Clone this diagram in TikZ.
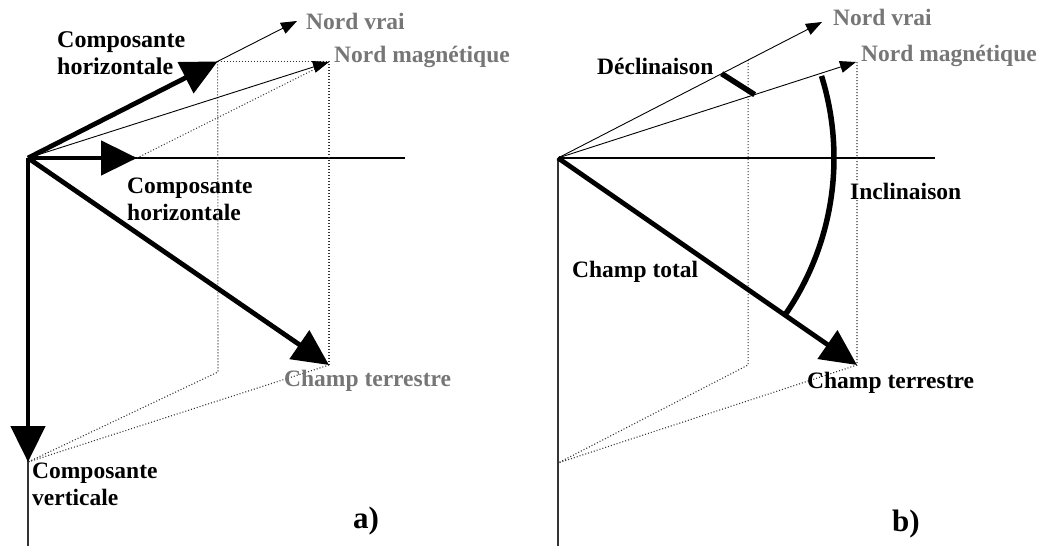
\documentclass[tikz,border=0pt]{standalone}
\usepackage{fontspec}
\setmainfont{Liberation Serif}
\usetikzlibrary{arrows.meta,calc}

\definecolor{labelgrey}{RGB}{118,118,118}

\begin{document}
\begin{tikzpicture}[
  x=1pt, y=-1pt,
  font=\bfseries\fontsize{23.5}{27}\selectfont,
  axis/.style={line width=1.1pt},
  bigvec/.style={-{Triangle[length=36pt, width=34pt]}, line width=4.8pt},
  thinvec/.style={-{Triangle[length=16pt, width=12pt]}, line width=0.9pt},
  guide/.style={line width=1.1pt, black!80, dash pattern=on 1pt off 2pt},
  anglemark/.style={line width=5.5pt},
  txt/.style={align=left, inner sep=1pt},
  greytxt/.style={txt, text=labelgrey},
  panel/.style={font=\bfseries\fontsize{31}{33}\selectfont}
]
\useasboundingbox (0,0) rectangle (1043,546);

% a) components of the field
\coordinate (Oa) at (28,158);
\coordinate (NVa) at (297,21);
\coordinate (NMa) at (329,62);
\coordinate (Ha) at ($(Oa)!0.705!(NVa)$);
\coordinate (Hs) at (137,158);
\coordinate (Va) at (28,462);
\coordinate (Cta) at (329,365);
\coordinate (Pa) at (218,372);
\coordinate (Ea) at (405,158);
\coordinate (Ba) at (28,546);

\draw[axis] (Oa) -- (Ea);
\draw[axis, black!80] (Oa) -- (Ba);
\draw[guide] (Ha) -- (Ha -| Cta) -- (Cta);
\draw[guide] (Ha) -- (Pa) -- (Va);
\draw[guide] (Cta) -- (Va);
\draw[guide] (Hs) -- (NMa);
\draw[thinvec] (Oa) -- (NVa);
\draw[thinvec] (Oa) -- (NMa);
\draw[bigvec] (Oa) -- (Ha);
\draw[bigvec] (Oa) -- (Hs);
\draw[bigvec] (Oa) -- (Va);
\draw[bigvec] (Oa) -- (Cta);

\node[greytxt, anchor=west] (nva) at (305,21) {Nord vrai};
\node[greytxt, anchor=west] (nma) at (333,57) {Nord magnétique};
\node[txt, anchor=west, font=\bfseries\fontsize{24}{27}\selectfont] (hta) at (56,53) {Composante\\horizontale};
\node[txt, anchor=west] (hla) at (126,199) {Composante\\horizontale};
\node[greytxt, anchor=west] (cta) at (283,381) {Champ terrestre};
\node[txt, anchor=west] (vca) at (31,484) {Composante\\verticale};
\node[panel] (pa) at (366,521) {a)};

% b) declination and inclination
\coordinate (Ob) at (558,158);
\coordinate (NVb) at (822,22);
\coordinate (NMb) at (856,62);
\coordinate (Ctb) at (857,365);
\coordinate (Qb) at ($(Ob)!0.72!(NVb)$);
\coordinate (Wb) at (558,463);
\coordinate (Eb) at (935,158);
\coordinate (Bb) at (558,546);
\coordinate (Db1) at ($(Ob)!0.62!(NVb)$);
\coordinate (Db2) at ($(Ob)!0.66!(NMb)$);

\draw[axis] (Ob) -- (Eb);
\draw[axis, black!80] (Ob) -- (Bb);
\draw[guide] (Qb) -- (Qb |- Ctb) -- (Wb);
\draw[guide] (Ctb |- NMb) -- (Ctb) -- (Wb);
\draw[thinvec] (Ob) -- (NVb);
\draw[thinvec] (Ob) -- (NMb);
\draw[bigvec] (Ob) -- (Ctb);
\draw[anglemark] (Db1) -- (Db2);
\draw[anglemark] ($(Ob)+(-17.3:276)$) arc[start angle=-17.3, end angle=34.3, radius=276];

\node[greytxt, anchor=west] (nvb) at (832,17) {Nord vrai};
\node[greytxt, anchor=west] (nmb) at (860,56) {Nord magnétique};
\node[txt, anchor=west] (dcb) at (596,66) {Déclinaison};
\node[txt, anchor=west, fill=white] (icb) at (849,191) {Inclinaison};
\node[txt, anchor=west] (tob) at (571,272) {Champ total};
\node[txt, anchor=west] (ctb) at (806,383) {Champ terrestre};
\node[panel] (pb) at (906,524) {b)};
\end{tikzpicture}
\end{document}
